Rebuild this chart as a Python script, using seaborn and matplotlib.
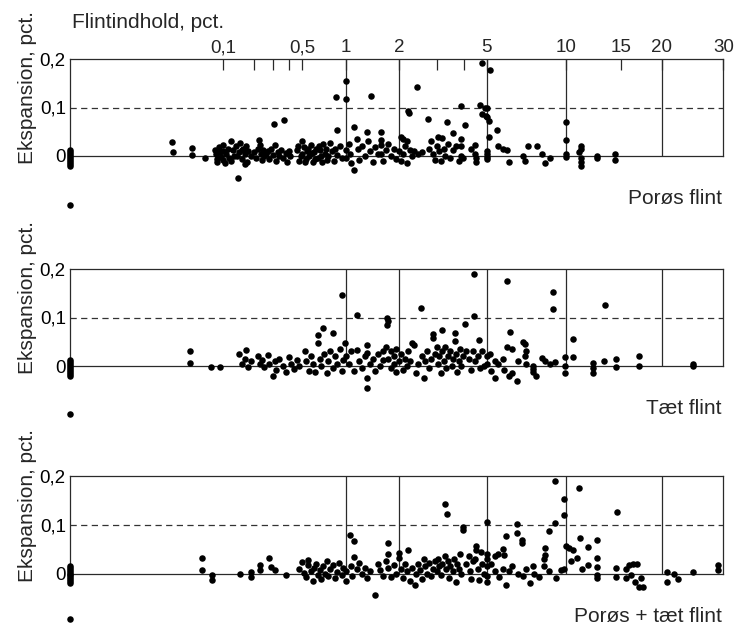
import numpy as np
import pandas as pd
import matplotlib
matplotlib.use("Agg")
import matplotlib.pyplot as plt
import seaborn as sns

# ---------------- data (flint content pct, expansion pct) ----------------
porous_points = [
    (0, 0.012), (0, 0.008), (0, 0.004), (0, 0.0), (0, -0.004), (0, -0.008), (0, -0.012), (0, -0.016), (0, -0.02), (0, -0.101),
    (0.041, 0.028), (0.042, 0.008), (0.058, 0.016), (0.058, 0.002), (0.075, -0.005),
    (0.089, 0.012), (0.09, 0.004), (0.091, -0.006), (0.092, -0.012), (0.094, 0.018), (0.096, 0.008), (0.097, -0.002),
    (0.099, 0.022), (0.1, 0.01), (0.1, -0.008), (0.105, -0.015),
    (0.11, 0.005), (0.115, 0.015), (0.12, -0.004), (0.124, 0.03), (0.125, -0.01), (0.13, 0.012), (0.135, 0.0), (0.14, 0.02),
    (0.145, 0.0), (0.147, -0.046), (0.15, 0.008), (0.155, 0.026), (0.16, -0.006), (0.16, 0.012), (0.165, 0.015), (0.17, 0.004),
    (0.17, -0.016), (0.175, 0.02), (0.177, -0.012), (0.18, 0.01), (0.19, 0.0), (0.2, 0.008), (0.21, -0.004), (0.22, 0.015),
    (0.224, 0.033), (0.23, 0.022), (0.235, 0.005), (0.24, -0.008), (0.245, 0.012), (0.25, 0.0), (0.26, 0.004), (0.27, 0.01),
    (0.28, -0.006), (0.29, 0.015), (0.3, 0.002), (0.305, 0.066), (0.31, 0.023), (0.32, -0.01), (0.33, 0.008), (0.34, 0.0),
    (0.35, 0.012), (0.36, -0.004), (0.37, 0.074), (0.38, 0.006), (0.39, -0.012), (0.4, 0.01), (0.41, 0.0),
    (0.46, 0.012), (0.47, 0.02), (0.48, -0.01), (0.49, 0.0), (0.5, 0.03), (0.5, 0.005), (0.52, 0.018), (0.53, -0.012),
    (0.54, -0.006), (0.56, 0.01), (0.57, 0.015), (0.58, 0.0), (0.6, 0.022), (0.61, 0.006), (0.62, -0.012), (0.64, 0.008),
    (0.65, -0.006), (0.66, 0.015), (0.68, -0.004), (0.69, 0.02), (0.7, 0.012), (0.72, 0.0), (0.73, -0.012), (0.74, 0.025),
    (0.76, 0.005), (0.77, 0.015), (0.78, -0.008), (0.8, 0.0), (0.82, 0.027), (0.84, 0.01), (0.86, -0.01), (0.88, 0.015),
    (0.89, 0.122), (0.9, 0.054), (0.9, 0.002), (0.93, 0.02), (0.95, -0.005), (1.0, 0.155), (1.0, 0.118), (1.0, 0.012), (1.0, -0.004),
    (1.05, 0.025), (1.08, 0.005), (1.1, -0.015), (1.15, 0.06), (1.15, -0.029), (1.2, 0.035), (1.22, 0.015), (1.25, -0.008),
    (1.3, 0.02), (1.35, 0.0), (1.4, 0.05), (1.42, 0.03), (1.45, 0.01), (1.48, 0.124), (1.5, -0.012), (1.55, 0.018), (1.6, 0.004),
    (1.66, 0.05), (1.66, 0.033), (1.66, 0.023), (1.66, 0.005), (1.7, -0.01), (1.75, 0.012), (1.8, 0.025), (1.85, 0.0),
    (1.9, 0.015), (1.95, -0.006),
    (2.0, 0.01), (2.05, 0.04), (2.05, -0.01), (2.1, 0.035), (2.1, 0.005), (2.15, 0.02), (2.2, 0.03), (2.2, -0.015),
    (2.25, 0.093), (2.26, 0.088), (2.3, 0.012), (2.35, 0.0), (2.4, 0.01), (2.49, 0.143), (2.5, 0.005), (2.6, 0.008),
    (2.78, 0.077), (2.8, 0.015), (2.85, 0.03), (2.9, 0.005), (2.95, -0.008),
    (3.0, 0.02), (3.05, 0.04), (3.1, 0.01), (3.15, -0.01), (3.2, 0.038), (3.25, 0.015), (3.3, 0.0), (3.37, 0.07),
    (3.4, 0.025), (3.5, -0.005), (3.58, 0.048), (3.6, 0.012), (3.7, 0.02), (3.8, -0.01), (3.9, 0.104), (3.9, 0.035),
    (3.9, 0.02), (3.9, 0.0), (3.95, -0.004),
    (4.04, 0.063), (4.3, 0.015), (4.5, 0.022), (4.5, 0.005), (4.55, -0.005), (4.55, -0.013), (4.7, 0.105), (4.78, 0.191),
    (4.8, 0.087), (4.93, 0.1), (4.95, 0.083), (5.0, 0.1), (5.0, 0.08), (5.0, 0.01), (5.0, 0.005), (5.0, -0.003), (5.0, -0.007),
    (5.16, 0.073), (5.2, 0.177), (5.16, 0.04), (5.67, 0.054), (5.7, 0.02), (6.0, 0.015), (6.3, 0.012), (6.4, -0.013),
    (7.3, 0.0), (7.4, -0.01), (7.6, 0.02), (8.2, 0.02), (8.5, 0.005), (8.7, -0.015), (9.0, -0.005),
    (10, 0.07), (10, 0.034), (10, 0.005), (10, -0.003), (11.2, 0.008), (11.4, 0.015), (11.4, 0.02), (11.4, -0.005),
    (11.4, -0.013), (11.4, -0.02), (12.8, 0.0), (12.8, -0.005), (14.5, 0.005), (14.5, -0.008),
]

dense_points = [
    (0, 0.012), (0, 0.008), (0, 0.004), (0, 0.0), (0, -0.004), (0, -0.008), (0, -0.012), (0, -0.016), (0, -0.02), (0, -0.098),
    (0.055, 0.03), (0.055, 0.007), (0.084, -0.003), (0.096, -0.003),
    (0.15, 0.025), (0.16, 0.005), (0.17, 0.015), (0.175, 0.033), (0.18, -0.002), (0.19, 0.01), (0.22, 0.02), (0.23, 0.004),
    (0.24, 0.012), (0.25, -0.003), (0.27, 0.022), (0.28, 0.005), (0.3, -0.02), (0.31, 0.01), (0.32, -0.008), (0.34, 0.015),
    (0.36, 0.0), (0.38, -0.012), (0.4, 0.018), (0.42, 0.005), (0.44, -0.006), (0.46, 0.012), (0.48, 0.0), (0.53, 0.03),
    (0.55, 0.01), (0.58, -0.01), (0.6, 0.02), (0.62, 0.005), (0.65, -0.012), (0.68, 0.064), (0.68, 0.047), (0.7, 0.015),
    (0.72, 0.0), (0.74, 0.078), (0.75, 0.025), (0.78, -0.015), (0.8, 0.01), (0.82, 0.03), (0.85, 0.068), (0.85, -0.005),
    (0.88, 0.02), (0.9, 0.005), (0.93, 0.035), (0.95, 0.146), (0.95, -0.01), (0.97, 0.012), (0.99, 0.047), (1.0, 0.02),
    (1.05, 0.005), (1.1, 0.03), (1.15, -0.01), (1.2, 0.105), (1.2, 0.033), (1.25, 0.01), (1.3, -0.005), (1.35, 0.02),
    (1.39, 0.043), (1.39, 0.027), (1.39, -0.025), (1.39, -0.045), (1.45, 0.005), (1.5, 0.015), (1.55, -0.01), (1.6, 0.025),
    (1.65, 0.0), (1.7, 0.012), (1.7, 0.03), (1.75, 0.04), (1.77, 0.1), (1.77, 0.085), (1.8, 0.093), (1.8, 0.015),
    (1.85, 0.03), (1.85, -0.005), (1.9, 0.005), (1.9, 0.02), (1.95, -0.012), (1.95, 0.035), (2.0, 0.01),
    (2.05, 0.025), (2.1, -0.008), (2.15, 0.015), (2.2, 0.0), (2.25, 0.03), (2.3, 0.01), (2.35, 0.048), (2.4, 0.043),
    (2.45, -0.015), (2.5, 0.005), (2.58, 0.12), (2.6, 0.02), (2.65, -0.024), (2.7, 0.01), (2.75, 0.03), (2.8, -0.005),
    (2.85, 0.015), (2.9, 0.066), (2.9, 0.058), (2.95, 0.025),
    (3.0, 0.04), (3.05, 0.005), (3.1, 0.02), (3.15, -0.015), (3.2, 0.074), (3.2, 0.03), (3.25, 0.01), (3.3, 0.04),
    (3.35, -0.005), (3.4, 0.02), (3.5, 0.03), (3.55, 0.0), (3.6, 0.015), (3.67, 0.068), (3.67, 0.052), (3.7, 0.025),
    (3.75, -0.012), (3.8, 0.01), (3.85, 0.035), (3.9, 0.0), (3.95, 0.02),
    (4.04, 0.086), (4.1, 0.03), (4.2, 0.015), (4.3, -0.008), (4.4, 0.03), (4.45, 0.189), (4.45, 0.103), (4.5, 0.01),
    (4.6, 0.02), (4.68, 0.053), (4.7, -0.005), (4.8, 0.03), (4.9, 0.0), (5.0, 0.02), (5.0, 0.005),
    (5.2, 0.025), (5.3, -0.01), (5.5, 0.01), (5.5, -0.024), (5.7, 0.005), (6.0, 0.015), (6.1, -0.008), (6.26, 0.175),
    (6.26, 0.039), (6.4, -0.02), (6.5, 0.07), (6.6, 0.036), (6.6, -0.014), (6.9, -0.03), (7.0, 0.01), (7.3, 0.05),
    (7.4, 0.046), (7.45, 0.031), (7.4, 0.021), (7.5, 0.005), (7.9, 0.0), (7.9, -0.007), (7.9, -0.013), (8.1, -0.02),
    (8.5, 0.017), (8.7, 0.01), (9.0, 0.005), (9.16, 0.153), (9.16, 0.117), (9.3, 0.008), (9.95, 0.019), (9.95, 0.0),
    (9.95, -0.014),
    (10.6, 0.056), (10.6, 0.019), (12.5, 0.006), (12.5, -0.004), (12.5, -0.015), (13.6, 0.125), (13.5, 0.01),
    (14.6, 0.015), (14.6, -0.003), (17.2, 0.02), (17.2, 0.0), (25.1, 0.005), (25.1, 0.001),
]

combined_points = [
    (0, 0.016), (0, 0.012), (0, 0.008), (0, 0.004), (0, 0.0), (0, -0.004), (0, -0.008), (0, -0.012), (0, -0.016), (0, -0.02), (0, -0.093),
    (0.071, 0.032), (0.071, 0.007), (0.085, -0.003), (0.085, -0.014), (0.154, -0.002), (0.19, 0.003), (0.19, -0.008),
    (0.23, 0.017), (0.23, 0.007), (0.28, 0.032), (0.29, 0.014), (0.31, 0.007), (0.38, -0.003),
    (0.48, 0.01), (0.5, 0.024), (0.52, 0.002), (0.55, -0.008), (0.57, 0.028), (0.57, 0.018), (0.6, 0.005), (0.62, -0.015),
    (0.64, 0.012), (0.66, 0.02), (0.68, -0.004), (0.7, 0.008), (0.72, -0.012), (0.74, 0.015), (0.76, 0.0), (0.78, 0.025),
    (0.8, -0.006), (0.82, 0.01), (0.85, 0.018), (0.87, -0.01), (0.9, 0.004), (0.92, 0.022), (0.95, -0.004), (0.97, 0.012),
    (1.0, -0.015), (1.0, 0.005),
    (1.07, 0.078), (1.15, 0.066), (1.15, 0.034), (1.1, 0.015), (1.12, -0.005), (1.2, 0.01), (1.25, 0.022), (1.3, 0.0),
    (1.35, 0.012), (1.4, -0.01), (1.45, 0.005), (1.55, -0.044), (1.6, 0.02), (1.65, 0.008), (1.7, -0.005), (1.75, 0.025),
    (1.8, 0.062), (1.8, 0.041), (1.8, 0.012), (1.85, -0.008), (1.9, 0.018), (1.95, 0.0),
    (2.0, 0.043), (2.0, 0.032), (2.25, 0.048), (2.05, 0.01), (2.1, -0.01), (2.15, 0.02), (2.2, 0.005), (2.3, -0.015),
    (2.35, 0.012), (2.42, -0.024), (2.45, 0.0), (2.5, 0.02), (2.55, 0.008), (2.6, -0.012), (2.65, 0.03), (2.7, 0.015),
    (2.75, 0.0), (2.8, 0.022), (2.85, -0.006), (2.9, 0.01), (2.95, 0.025),
    (3.0, 0.005), (3.05, 0.03), (3.1, 0.015), (3.15, -0.004), (3.2, 0.02), (3.3, 0.143), (3.37, 0.122), (3.3, 0.035),
    (3.35, 0.01), (3.4, 0.025), (3.45, -0.01), (3.5, 0.015), (3.6, 0.005), (3.65, 0.03), (3.7, -0.018), (3.75, 0.02),
    (3.8, 0.01), (3.85, 0.04), (3.95, 0.095), (3.95, 0.09), (3.9, 0.0),
    (4.1, 0.02), (4.2, 0.035), (4.25, 0.005), (4.3, -0.012), (4.4, 0.025), (4.5, 0.03), (4.55, 0.056), (4.55, 0.048),
    (4.6, 0.01), (4.65, -0.014), (4.75, 0.045), (4.8, 0.02), (4.9, 0.0), (5.0, 0.105), (5.0, 0.04), (5.0, 0.03),
    (5.0, 0.015), (5.0, -0.005), (5.05, -0.017),
    (5.3, 0.02), (5.5, 0.035), (5.5, 0.005), (5.7, 0.04), (5.8, -0.008), (6.0, 0.01), (6.2, 0.076), (6.0, 0.05),
    (6.1, 0.037), (6.2, -0.024), (6.4, 0.005), (6.6, 0.015), (6.9, 0.102), (6.9, 0.084), (7.0, 0.0), (7.2, 0.068),
    (7.25, 0.062), (7.3, -0.005), (7.5, 0.01), (7.7, -0.02), (7.9, 0.015), (8.0, 0.0), (8.3, -0.008), (8.6, 0.015),
    (8.7, 0.052), (8.7, 0.038), (8.6, 0.03), (8.95, 0.087), (8.9, 0.005), (9.3, 0.104), (9.3, 0.189), (9.4, -0.01),
    (9.7, 0.008), (9.87, 0.153), (9.87, 0.119), (9.9, 0.01),
    (10.0, 0.056), (10.3, 0.052), (10.6, 0.048), (10.5, 0.025), (11.2, 0.175), (11.3, 0.072), (11.0, 0.031), (11.5, 0.01),
    (12.0, 0.054), (12.0, 0.018), (12.8, 0.068), (12.8, 0.031), (12.8, 0.013), (12.8, -0.003), (12.8, -0.01),
    (14.6, 0.011), (14.6, -0.007), (14.7, 0.126), (15.6, 0.01), (15.6, -0.01), (16.0, 0.017), (16.5, 0.02), (17.0, 0.02),
    (16.2, -0.004), (16.8, -0.018), (17.2, -0.027), (17.7, -0.027), (17.5, -0.01), (20.8, 0.003), (20.8, -0.017),
    (22.0, 0.0), (22.6, -0.012), (25.1, 0.003), (29.2, 0.017), (29.2, 0.007),
]

panel_titles = ["Porøs flint", "Tæt flint", "Porøs + tæt flint"]
tick_values = [0.1, 0.5, 1, 2, 5, 10, 15, 20, 30]
tick_labels = ["0,1", "0,5", "1", "2", "5", "10", "15", "20", "30"]
minor_tick_values = [0.2, 0.3, 0.4, 3, 4]
grid_values = [1, 2, 5, 10, 20]
y_ticks = [0, 0.1, 0.2]
y_tick_labels = ["0", "0,1", "0,2"]

# ---------------- custom (piecewise) flint-content scale ----------------
scale_knots = np.array([0, 0.01, 0.02, 0.05, 0.1, 0.2, 0.3, 0.4, 0.5, 1, 2, 3, 4, 5, 10, 15, 20, 30])
knot_pix = np.array([70, 100.6, 137.5, 186.4, 223.3, 254, 273.3, 288.7, 302, 346, 399, 436.7, 464,
                     486.7, 566, 620.7, 661.7, 723.3])
knot_frac = (knot_pix - knot_pix[0]) / (knot_pix[-1] - knot_pix[0])


def fwd(x):
    return np.interp(np.asarray(x, dtype=float), scale_knots, knot_frac)


def inv(p):
    return np.interp(np.asarray(p, dtype=float), knot_frac, scale_knots)


# ---------------- figure ----------------
sns.set_theme(style="white")
plt.rcParams["font.family"] = ["Liberation Sans", "DejaVu Sans"]

W, H = 737, 627
fig = plt.figure(figsize=(W / 100, H / 100), dpi=100)
fig.patch.set_facecolor("white")

panel_px = [(59, 156), (269, 366), (476, 573.5)]   # (top, zero-line) in pixels
left_px, right_px = 70, 723.3
title_y = [199, 409, 616]
datasets = [porous_points, dense_points, combined_points]
line_col = "#2a2a2a"
TICK_FS = 13.5
TEXT_FS = 15

for i, (pts, (top, bot)) in enumerate(zip(datasets, panel_px)):
    ax = fig.add_axes([left_px / W, 1 - bot / H, (right_px - left_px) / W, (bot - top) / H])
    ax.set_xscale("function", functions=(fwd, inv))
    df = pd.DataFrame(pts, columns=["flint", "expansion"])
    ax.axhline(0.1, color="#333333", lw=0.9, dashes=(5, 3.5), zorder=1)
    ax.vlines(grid_values, 0, 0.2, color=line_col, lw=0.9, zorder=1)
    sns.scatterplot(data=df, x="flint", y="expansion", ax=ax, s=22, color="black",
                    linewidth=0, clip_on=False, legend=False, zorder=3)
    ax.set_xlim(0, 30)
    ax.set_ylim(0, 0.2)
    ax.set_xlabel("")
    ax.set_ylabel("")
    for sp in ax.spines.values():
        sp.set_visible(True)
        sp.set_color(line_col)
        sp.set_linewidth(0.9)
    ax.set_yticks(y_ticks)
    ax.set_yticklabels(y_tick_labels)
    ax.tick_params(axis="y", length=0, pad=3, labelsize=TICK_FS, colors="black")
    if i == 0:
        ax.xaxis.tick_top()
        ax.set_xticks(tick_values)
        ax.set_xticklabels(tick_labels)
        ax.set_xticks(minor_tick_values, minor=True)
        ax.tick_params(axis="x", which="both", direction="in", length=8, width=0.9,
                       top=True, bottom=False, labeltop=True, labelbottom=False,
                       pad=2, labelsize=TICK_FS, color=line_col)
    else:
        ax.set_xticks([])
        ax.set_xticks([], minor=True)
    ax.grid(False)
    fig.text(28 / W, 1 - (bot + 8) / H, "Ekspansion, pct.", rotation=90, ha="center",
             va="bottom", fontsize=TEXT_FS)
    fig.text(722 / W, 1 - title_y[i] / H, panel_titles[i], ha="right", va="center", fontsize=TEXT_FS)

fig.text(72 / W, 1 - 23 / H, "Flintindhold, pct.", ha="left", va="center", fontsize=TEXT_FS)

fig.savefig("out.png", dpi=100, facecolor="white")
